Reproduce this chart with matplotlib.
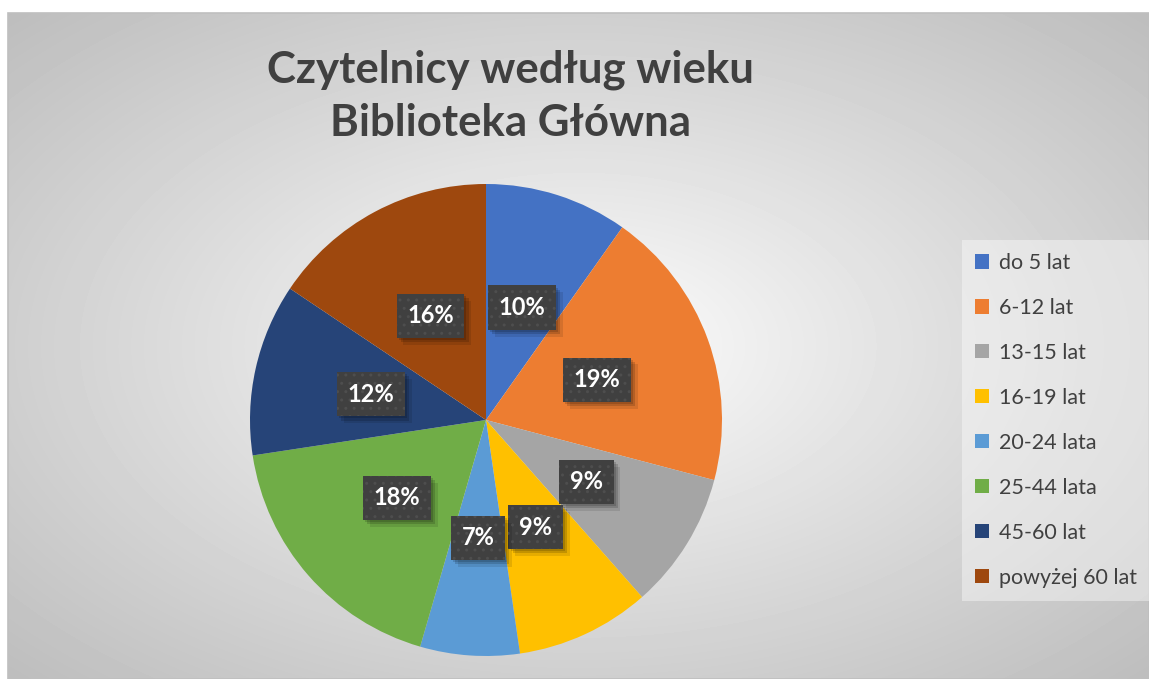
import numpy as np
import matplotlib
matplotlib.use("Agg")
import matplotlib.pyplot as plt
from matplotlib.patches import Patch, Rectangle
from matplotlib import patheffects

plt.rcParams['font.family'] = ['Lato', 'DejaVu Sans']

# dane: udział czytelników według wieku (%)
kategorie = ['do 5 lat', '6-12 lat', '13-15 lat', '16-19 lat',
             '20-24 lata', '25-44 lata', '45-60 lat', 'powyżej 60 lat']
udzialy = [9.8, 19.3, 9.4, 9.2, 6.8, 18.1, 11.8, 15.6]
kolory = ['#4472C4', '#ED7D31', '#A5A5A5', '#FFC000',
          '#5B9BD5', '#70AD47', '#264478', '#9E480E']
tytul = ['Czytelnicy według wieku', 'Biblioteka Główna']

W, H = 1149, 679
fig = plt.figure(figsize=(W / 100, H / 100), dpi=100)
fig.patch.set_facecolor('white')

# tło wykresu - gradient radialny jak w Excelu
x0, y0 = 8, 13
bw, bh = W - x0, H - y0
bg = fig.add_axes([x0 / W, 0, bw / W, bh / H])
xx, yy = np.meshgrid(np.arange(bw), np.arange(bh))
t = np.sqrt(((xx - bw / 2) / (bw / 2)) ** 2 + ((yy - bh / 2) / (bh / 2)) ** 2) / np.sqrt(2)
shade = (255 - 66 * np.clip(t, 0, 1) ** 0.9) / 255
bg.imshow(shade, cmap='gray', vmin=0, vmax=1, aspect='auto', interpolation='bilinear')
bg.set_axis_off()
fig.add_artist(Rectangle((x0 / W, 0), bw / W, bh / H, transform=fig.transFigure,
                         fill=False, edgecolor='#bfbfbf', lw=1.2))

# tytuł
for i, linia in enumerate(tytul):
    fig.text(510 / W, 1 - (70 + i * 53) / H, linia, ha='center', va='center',
             fontsize=31.5, fontweight='bold', color='#404040')

# wykres kołowy
cx, cy, r = 486, 420, 236
ax = fig.add_axes([(cx - r) / W, (H - cy - r) / H, 2 * r / W, 2 * r / H])
wedges, texts, autotexts = ax.pie(udzialy, colors=kolory, startangle=90, counterclock=False,
                                  autopct=lambda p: f'{p:.0f}%', pctdistance=0.5,
                                  wedgeprops=dict(linewidth=0),
                                  textprops=dict(color='white', fontsize=17, fontweight='bold'))
ax.set_xlim(-1, 1)
ax.set_ylim(-1, 1)
ax.set_axis_off()

# etykiety: ciemne pole z cieniem, na wierzchu kropkowany wzór
for at in autotexts:
    x, y = at.get_position()
    at.set_color('none')
    at.set_bbox(dict(boxstyle='square,pad=0.45', facecolor='#404040', linewidth=0))
    at.get_bbox_patch().set_path_effects([
        patheffects.SimplePatchShadow(offset=(5, -5), shadow_rgbFace='black', alpha=0.10),
        patheffects.SimplePatchShadow(offset=(3, -3), shadow_rgbFace='black', alpha=0.15),
        patheffects.SimplePatchShadow(offset=(1.5, -1.5), shadow_rgbFace='black', alpha=0.15),
        patheffects.Normal()])
    ax.text(x, y, at.get_text(), ha='center', va='center', color='white',
            fontsize=17, fontweight='bold', zorder=at.get_zorder() + 1,
            bbox=dict(boxstyle='square,pad=0.45', facecolor='none',
                      edgecolor='#4e4e4e', linewidth=0, hatch='..'))

# legenda
uchwyty = [Patch(facecolor=k, edgecolor='none') for k in kolory]
leg = fig.legend(uchwyty, kategorie, loc='upper left',
                 bbox_to_anchor=(962 / W, 1 - 240 / H), bbox_transform=fig.transFigure,
                 fontsize=15.5, labelspacing=1.16, handlelength=0.65, handleheight=0.65,
                 handletextpad=0.45, borderpad=0.6, borderaxespad=0,
                 frameon=True, fancybox=False, facecolor='white', framealpha=0.4,
                 edgecolor='none', labelcolor='#404040')

fig.savefig('out.png', dpi=100)
